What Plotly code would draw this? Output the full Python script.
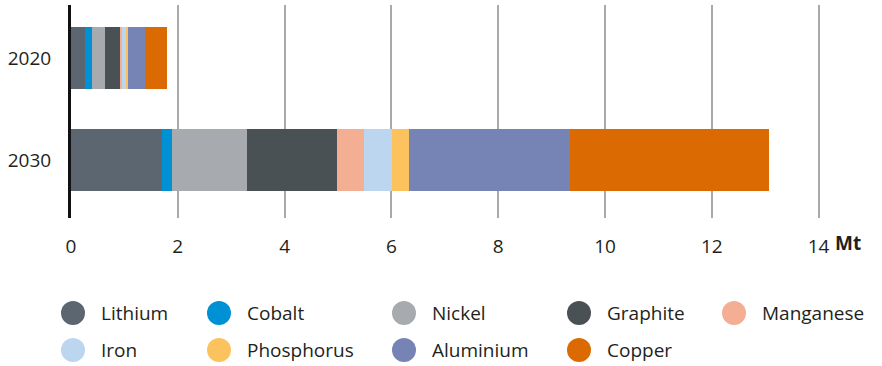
import plotly.graph_objects as go

years = ["2020", "2030"]
minerals = ["Lithium", "Cobalt", "Nickel", "Graphite", "Manganese",
            "Iron", "Phosphorus", "Aluminium", "Copper"]
values_2020 = [0.26, 0.13, 0.24, 0.30, 0.02, 0.08, 0.03, 0.32, 0.41]
values_2030 = [1.70, 0.19, 1.40, 1.69, 0.50, 0.53, 0.32, 3.01, 3.74]
colors = ["#5c6670", "#0091d5", "#a7aaae", "#4a5155", "#f4ae94",
          "#bcd6f0", "#fcc25e", "#7584b5", "#dc6a03"]
x_ticks = [0, 2, 4, 6, 8, 10, 12, 14]
unit_label = "Mt"

FONT = "Open Sans"
TXT = "#231f20"
FS = 19

fig = go.Figure()
for i, m in enumerate(minerals):
    fig.add_trace(go.Bar(
        y=years, x=[values_2020[i], values_2030[i]], name=m,
        orientation="h", marker=dict(color=colors[i], line=dict(width=0)),
        showlegend=False,
    ))

W, H = 882, 366
L, R, T, B = 71, 10, 5, 148
pw, ph = W - L - R, H - T - B

def px2x(px):
    return (px - L) / pw

def py2y(py):
    return (H - B - py) / ph

# manual legend (2 rows x 5 cols)
col_cx = [73, 219, 404, 579, 734]
row_cy = [313, 350]
rad = 12
shapes = []
annots = []
for i, m in enumerate(minerals):
    r, c = divmod(i, 5)
    cx, cy = col_cx[c], row_cy[r]
    shapes.append(dict(type="circle", xref="paper", yref="paper",
                       x0=px2x(cx - rad), x1=px2x(cx + rad),
                       y0=py2y(cy + rad), y1=py2y(cy - rad),
                       fillcolor=colors[i], line=dict(width=0)))
    annots.append(dict(xref="paper", yref="paper", x=px2x(cx + 26), y=py2y(cy),
                       text=m, showarrow=False, xanchor="left", yanchor="middle",
                       font=dict(family=FONT, size=FS, color=TXT)))

annots.append(dict(xref="paper", yref="paper", x=px2x(848), y=py2y(243),
                   text="<b>" + unit_label + "</b>", showarrow=False,
                   xanchor="center", yanchor="middle",
                   font=dict(family=FONT, size=FS, color=TXT)))

fig.update_layout(
    width=W, height=H,
    margin=dict(l=L, r=R, t=T, b=B, autoexpand=False),
    barmode="stack", bargap=0.39,
    plot_bgcolor="white", paper_bgcolor="white",
    font=dict(family=FONT, size=FS, color=TXT),
    shapes=shapes, annotations=annots,
    xaxis=dict(range=[0, 15], tickvals=x_ticks, showgrid=True,
               gridcolor="#a7a9ac", gridwidth=2, zeroline=False,
               ticks="outside", ticklen=11, tickcolor="rgba(0,0,0,0)",
               automargin=False,
               tickfont=dict(family=FONT, size=FS, color=TXT)),
    yaxis=dict(type="category", categoryorder="array", categoryarray=years,
               range=[1.57, -0.52], showline=True, linecolor="#111111",
               linewidth=3, showgrid=False, zeroline=False,
               ticks="outside", ticklen=13, tickcolor="rgba(0,0,0,0)",
               automargin=False,
               tickfont=dict(family=FONT, size=FS, color=TXT)),
)

fig.write_html("out.html", config={"displayModeBar": False},
               post_script="document.body.style.margin='0';document.body.style.padding='0';")
